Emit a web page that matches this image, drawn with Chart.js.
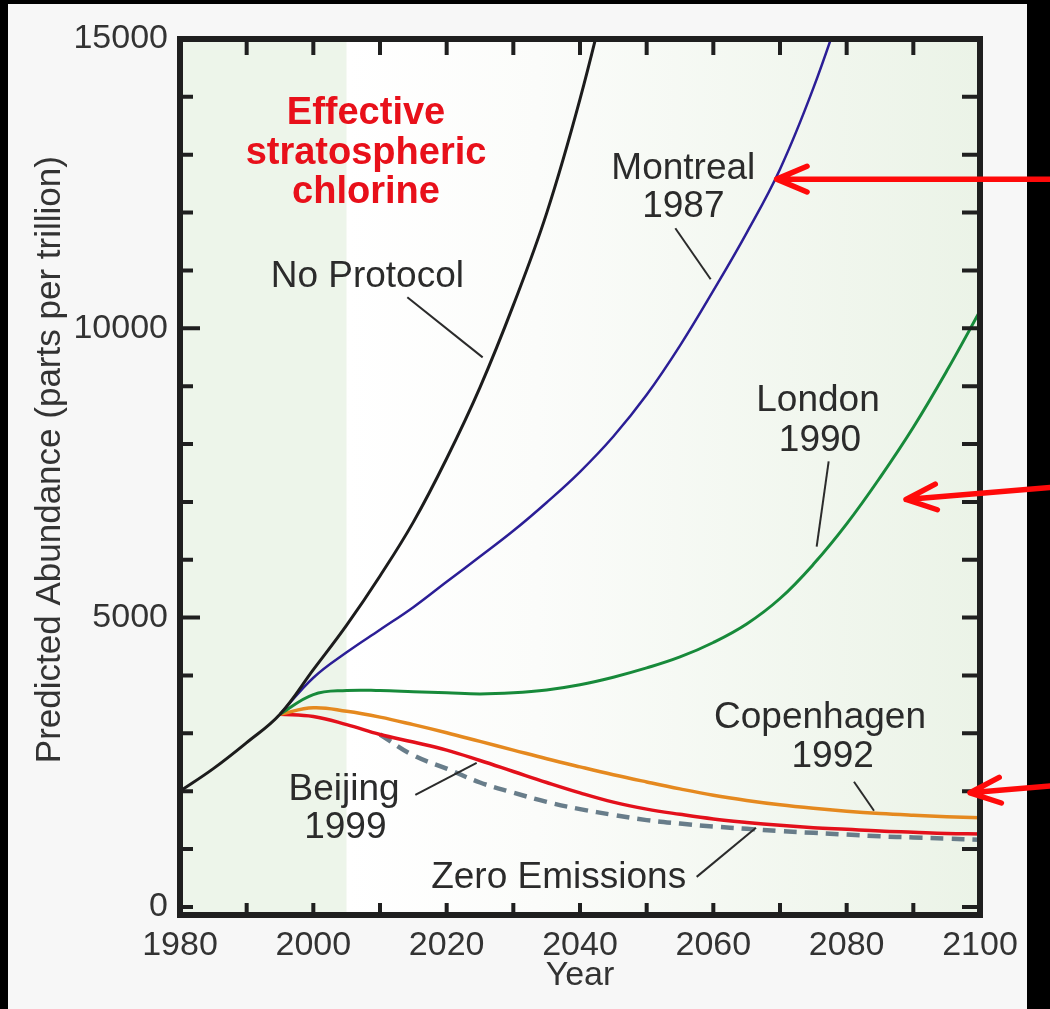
<!DOCTYPE html>
<html>
<head>
<meta charset="utf-8">
<script src="https://cdn.jsdelivr.net/npm/chart.js@4.4.1/dist/chart.umd.min.js"></script>
<style>
  html, body { margin: 0; padding: 0; background: #000; }
  #wrap { width: 1050px; height: 1009px; }
</style>
</head>
<body>
<div id="wrap"><canvas id="chart" width="1050" height="1009"></canvas></div>
<script>
// years sampled every 5 years
const years = [1980, 1985, 1990, 1995, 2000, 2005, 2010, 2015, 2020, 2025, 2030, 2035, 2040,
               2045, 2050, 2055, 2060, 2065, 2070, 2075, 2080, 2085, 2090, 2095, 2100];

// predicted abundance, parts per trillion (null = not drawn)
const noProtocol    = [2000, 2390, 2840, 3330, 4100, 4870, 5720, 6650, 7750, 8980, 10400, 11990, 13960, 16260];
const montreal      = [null, null, null, 3330, 3960, 4400, 4790, 5180, 5620, 6055, 6500, 6990, 7520, 8130, 8850,
                       9700, 10650, 11650, 12750, 14150, 15800];
const london        = [null, null, null, 3330, 3670, 3740, 3740, 3720, 3700, 3680, 3700, 3750, 3840, 3970, 4130,
                       4320, 4570, 4890, 5330, 5920, 6620, 7420, 8290, 9260, 10300];
const copenhagen    = [null, null, null, 3330, 3440, 3380, 3280, 3150, 3010, 2860, 2710, 2560, 2420, 2285, 2160,
                       2040, 1930, 1840, 1765, 1705, 1655, 1615, 1585, 1560, 1540];
const beijing       = [null, null, null, 3330, 3290, 3150, 2980, 2850, 2710, 2530, 2340, 2150, 1970, 1810, 1690,
                       1600, 1520, 1460, 1410, 1370, 1340, 1310, 1290, 1270, 1260];
const zeroEmissions = [null, null, null, null, null, null, 2980, 2620, 2390, 2150, 1975, 1815, 1690, 1590, 1500,
                       1440, 1390, 1350, 1310, 1280, 1250, 1220, 1200, 1180, 1160];

const xTickLabels = [1980, 2000, 2020, 2040, 2060, 2080, 2100];
const yTickLabels = [0, 5000, 10000, 15000];
const xMinorStep = 10;
const yMinorStep = 1000;
const shadeEnd = 2005;   // end of the shaded "observed" period

const FONT = '"Liberation Sans", Arial, Helvetica, sans-serif';
const yTitle = 'Predicted Abundance (parts per trillion)';

function toPoints(vals) {
  const pts = [];
  vals.forEach((v, i) => { if (v !== null && v !== undefined) pts.push({x: years[i], y: v}); });
  return pts;
}

// curve labels, in data units (year, value of the baseline)
const notes = [
  {text: 'No Protocol', year: 2008.1, value: 10709},
  {text: 'Montreal', year: 2055.5, value: 12578},
  {text: '1987', year: 2055.5, value: 11920},
  {text: 'London', year: 2075.7, value: 8564},
  {text: '1990', year: 2076.0, value: 7872},
  {text: 'Copenhagen', year: 2076.0, value: 3097},
  {text: '1992', year: 2077.9, value: 2422},
  {text: 'Beijing', year: 2004.6, value: 1851},
  {text: '1999', year: 2004.8, value: 1194},
  {text: 'Zero Emissions', year: 2036.8, value: 329}
];
const titleLines = [
  {text: 'Effective', year: 2007.9, value: 13529},
  {text: 'stratospheric', year: 2007.9, value: 12837},
  {text: 'chlorine', year: 2007.9, value: 12163}
];
// leader lines from label to curve
const pointers = [
  [2014.1, 10536, 2025.4, 9498],
  [2054.3, 11730, 2059.6, 10848],
  [2077.3, 7699, 2075.5, 6228],
  [2081.1, 2163, 2084.1, 1661],
  [2015.3, 1938, 2024.5, 2491],
  [2057.5, 519, 2066.4, 1367]
];
// red arrows: tail (year, value) -> tip (year, value)
const arrows = [
  [2110.7, 12578, 2069.5, 12578],
  [2110.7, 7249, 2088.9, 7042],
  [2110.7, 2093, 2098.5, 1972]
];

const decor = {
  id: 'decor',
  beforeDraw(chart) {
    const {ctx, chartArea: a, scales: {x, y}} = chart;
    ctx.save();
    ctx.fillStyle = '#000';
    ctx.fillRect(0, 0, chart.width, chart.height);
    ctx.fillStyle = '#f7f7f7';
    ctx.fillRect(8, 4, 1019, chart.height - 4);
    const xs = x.getPixelForValue(shadeEnd);
    ctx.fillStyle = '#edf5ea';
    ctx.fillRect(a.left, a.top, xs - a.left, a.bottom - a.top);
    const g = ctx.createLinearGradient(xs, 0, a.right, 0);
    g.addColorStop(0, '#ffffff');
    g.addColorStop(0.3, '#fbfcfa');
    g.addColorStop(1, '#ebf3e7');
    ctx.fillStyle = g;
    ctx.fillRect(xs, a.top, a.right - xs, a.bottom - a.top);
    // y axis title
    ctx.translate(50, y.getPixelForValue(7730));
    ctx.rotate(-Math.PI / 2);
    ctx.fillStyle = '#333';
    ctx.font = '35px ' + FONT;
    ctx.textAlign = 'center';
    ctx.textBaseline = 'middle';
    ctx.fillText(yTitle, 0, 0);
    ctx.restore();
  },
  afterDatasetsDraw(chart) {
    const {ctx, chartArea: a, scales: {x, y}} = chart;
    ctx.save();
    // labels
    ctx.textAlign = 'center';
    ctx.textBaseline = 'alphabetic';
    ctx.fillStyle = '#e8101a';
    ctx.font = 'bold 38px ' + FONT;
    titleLines.forEach(t => ctx.fillText(t.text, x.getPixelForValue(t.year), y.getPixelForValue(t.value)));
    ctx.fillStyle = '#2b2b2b';
    ctx.font = '37px ' + FONT;
    notes.forEach(n => ctx.fillText(n.text, x.getPixelForValue(n.year), y.getPixelForValue(n.value)));
    ctx.strokeStyle = '#2b2b2b';
    ctx.lineWidth = 2;
    pointers.forEach(p => {
      ctx.beginPath();
      ctx.moveTo(x.getPixelForValue(p[0]), y.getPixelForValue(p[1]));
      ctx.lineTo(x.getPixelForValue(p[2]), y.getPixelForValue(p[3]));
      ctx.stroke();
    });
    // frame with inward ticks
    ctx.strokeStyle = '#1f1f1f';
    ctx.lineWidth = 4;
    ctx.beginPath();
    for (let v = 0; v < 15000; v += yMinorStep) {
      const py = y.getPixelForValue(v);
      const len = (v % 5000 === 0 && v > 0) ? 20 : 13;
      ctx.moveTo(a.left, py); ctx.lineTo(a.left + len, py);
      ctx.moveTo(a.right, py); ctx.lineTo(a.right - 18, py);
    }
    for (let yr = 1980 + xMinorStep; yr < 2100; yr += xMinorStep) {
      const pxx = x.getPixelForValue(yr);
      ctx.moveTo(pxx, a.top); ctx.lineTo(pxx, a.top + 16);
      ctx.moveTo(pxx, a.bottom); ctx.lineTo(pxx, a.bottom - 12);
    }
    ctx.stroke();
    ctx.lineWidth = 6;
    ctx.strokeRect(a.left, a.top, a.right - a.left, a.bottom - a.top);
    ctx.restore();
  },
  afterDraw(chart) {
    const {ctx, scales: {x, y}} = chart;
    ctx.save();
    ctx.strokeStyle = '#ff0a0a';
    ctx.lineWidth = 5.5;
    ctx.lineCap = 'round';
    ctx.lineJoin = 'round';
    arrows.forEach(r => {
      const x1 = x.getPixelForValue(r[0]), y1 = y.getPixelForValue(r[1]);
      const x2 = x.getPixelForValue(r[2]), y2 = y.getPixelForValue(r[3]);
      const ang = Math.atan2(y2 - y1, x2 - x1);
      const L = 33, phi = 0.4;
      ctx.beginPath();
      ctx.moveTo(x1, y1); ctx.lineTo(x2, y2);
      ctx.moveTo(x2 - L * Math.cos(ang - phi), y2 - L * Math.sin(ang - phi));
      ctx.lineTo(x2, y2);
      ctx.lineTo(x2 - L * Math.cos(ang + phi), y2 - L * Math.sin(ang + phi));
      ctx.stroke();
    });
    ctx.restore();
  }
};

function series(label, vals, color, width, dash) {
  return {
    label: label,
    data: toPoints(vals),
    borderColor: color,
    borderWidth: width,
    borderDash: dash || [],
    pointRadius: 0,
    fill: false,
    tension: 0.4
  };
}

new Chart(document.getElementById('chart'), {
  type: 'line',
  data: {
    datasets: [
      series('No Protocol', noProtocol, '#1c1c1c', 3),
      series('Montreal 1987', montreal, '#2b1e96', 2.5),
      series('London 1990', london, '#178a3a', 3),
      series('Copenhagen 1992', copenhagen, '#e5891f', 3.5),
      series('Beijing 1999', beijing, '#e3101b', 3.5),
      series('Zero Emissions', zeroEmissions, '#687d8a', 4.5, [13, 8])
    ]
  },
  options: {
    responsive: false,
    devicePixelRatio: 1,
    animation: false,
    layout: {padding: {left: 0, right: 70, top: 39, bottom: 0}},
    plugins: {legend: {display: false}, tooltip: {enabled: false}},
    scales: {
      x: {
        type: 'linear',
        position: 'bottom',
        min: 1980,
        max: 2100,
        afterBuildTicks: s => { s.ticks = xTickLabels.map(v => ({value: v})); },
        afterFit: s => { s.height = 94; },
        grid: {display: false, drawTicks: false},
        border: {display: false},
        ticks: {
          padding: 10,
          color: '#333',
          font: {family: FONT, size: 34},
          maxRotation: 0,
          autoSkip: false,
          callback: v => String(v)
        },
        title: {
          display: true,
          text: 'Year',
          color: '#333',
          font: {family: FONT, size: 34},
          padding: {top: 0, bottom: 13}
        }
      },
      y: {
        type: 'linear',
        position: 'left',
        min: -140,
        max: 15000,
        afterBuildTicks: s => { s.ticks = yTickLabels.map(v => ({value: v})); },
        afterFit: s => { s.width = 180; },
        grid: {display: false, drawTicks: false},
        border: {display: false},
        ticks: {
          padding: 12,
          color: '#333',
          font: {family: FONT, size: 34},
          autoSkip: false,
          callback: v => String(v)
        },
        title: {display: false}
      }
    }
  },
  plugins: [decor]
});
</script>
</body>
</html>
